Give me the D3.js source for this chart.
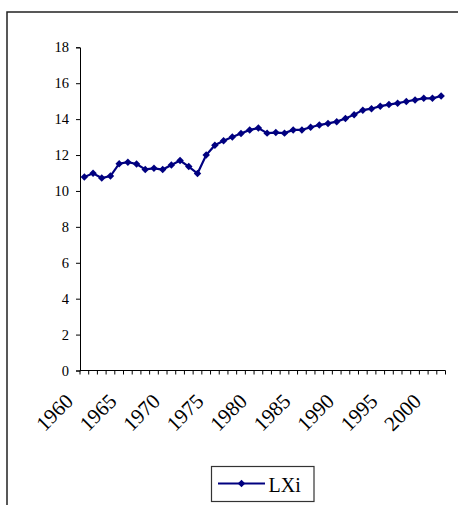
<!DOCTYPE html>
<head>
  <meta charset="utf-8">
  <script src="https://d3js.org/d3.v7.min.js"></script>
  <style>
    body { margin:0; background:#fff; }
    svg { font-family: "Liberation Serif", "Times New Roman", serif; }
  </style>
</head>
<body>
<svg width="458" height="505"></svg>

<script>
  // data
  var years = d3.range(1960, 2002);
  var lxi = [10.78, 10.98, 10.72, 10.83, 11.52, 11.60, 11.50, 11.20, 11.26, 11.19,
             11.45, 11.69, 11.36, 10.97, 12.00, 12.55, 12.80, 13.00, 13.20, 13.40,
             13.50, 13.22, 13.25, 13.22, 13.40, 13.40, 13.55, 13.67, 13.76, 13.86,
             14.03, 14.25, 14.50, 14.58, 14.72, 14.81, 14.89, 14.98, 15.07, 15.16,
             15.16, 15.29];
  var yTicks = [0, 2, 4, 6, 8, 10, 12, 14, 16, 18];
  var xLabels = [1960, 1965, 1970, 1975, 1980, 1985, 1990, 1995, 2000];
  var seriesName = "LXi";

  var svg = d3.select("svg");
  var navy = "#000080";

  // chart area border (runs off the right / bottom edge)
  svg.append("rect")
    .attr("x", 7).attr("y", 12)
    .attr("width", 470).attr("height", 520)
    .attr("fill", "none")
    .attr("stroke", "#222")
    .attr("stroke-width", 1.5);

  var m = { left: 80, right: 445.5, top: 47.3, bottom: 370.5 };

  var x = d3.scaleBand()
    .domain(years)
    .range([m.left, m.right]);

  var y = d3.scaleLinear()
    .domain([0, 18])
    .range([m.bottom, m.top]);

  // y axis
  var yAxis = svg.append("g")
    .attr("transform", "translate(" + m.left + ",0)")
    .call(d3.axisLeft(y).tickValues(yTicks).tickSize(4).tickPadding(7));
  yAxis.selectAll("path, line").attr("stroke", "#000");
  yAxis.selectAll("text")
    .attr("font-family", "Liberation Serif, serif")
    .attr("font-size", 14.5)
    .attr("fill", "#000");

  // x axis: ticks between categories
  svg.append("line")
    .attr("x1", m.left).attr("x2", m.right)
    .attr("y1", m.bottom).attr("y2", m.bottom)
    .attr("stroke", "#000");

  var bounds = years.map(function(d) { return x(d); }).concat([m.right]);
  svg.selectAll("line.xtick")
    .data(bounds)
    .enter()
    .append("line")
    .attr("class", "xtick")
    .attr("x1", function(d) { return d; })
    .attr("x2", function(d) { return d; })
    .attr("y1", m.bottom)
    .attr("y2", m.bottom + 4)
    .attr("stroke", "#000");

  svg.selectAll("text.xlab")
    .data(xLabels)
    .enter()
    .append("text")
    .attr("class", "xlab")
    .attr("text-anchor", "end")
    .attr("font-size", 21)
    .attr("transform", function(d) {
      return "translate(" + (x(d) + x.bandwidth() / 2 - 10) + "," + (m.bottom + 32) + ") rotate(-45)";
    })
    .text(function(d) { return d; });

  // series line
  var cx = function(d, i) { return x(years[i]) + x.bandwidth() / 2; };
  var line = d3.line()
    .x(cx)
    .y(function(d) { return y(d); });

  svg.append("path")
    .datum(lxi)
    .attr("d", line)
    .attr("fill", "none")
    .attr("stroke", navy)
    .attr("stroke-width", 2.2);

  var marker = d3.symbol().type(d3.symbolSquare).size(28);
  svg.selectAll("path.pt")
    .data(lxi)
    .enter()
    .append("path")
    .attr("class", "pt")
    .attr("d", marker)
    .attr("transform", function(d, i) { return "translate(" + cx(d, i) + "," + y(d) + ") rotate(45)"; })
    .attr("fill", navy);

  // legend
  var lg = svg.append("g");
  lg.append("rect")
    .attr("x", 211.5).attr("y", 466.5)
    .attr("width", 102.5).attr("height", 35)
    .attr("fill", "#fff")
    .attr("stroke", "#333")
    .attr("stroke-width", 1.2);
  lg.append("line")
    .attr("x1", 218).attr("x2", 265)
    .attr("y1", 483.5).attr("y2", 483.5)
    .attr("stroke", navy)
    .attr("stroke-width", 2.2);
  lg.append("path")
    .attr("d", marker)
    .attr("transform", "translate(241.5,483.5) rotate(45)")
    .attr("fill", navy);
  lg.append("text")
    .attr("x", 268.5).attr("y", 491.5)
    .attr("font-size", 20)
    .text(seriesName);
</script>
</body>
